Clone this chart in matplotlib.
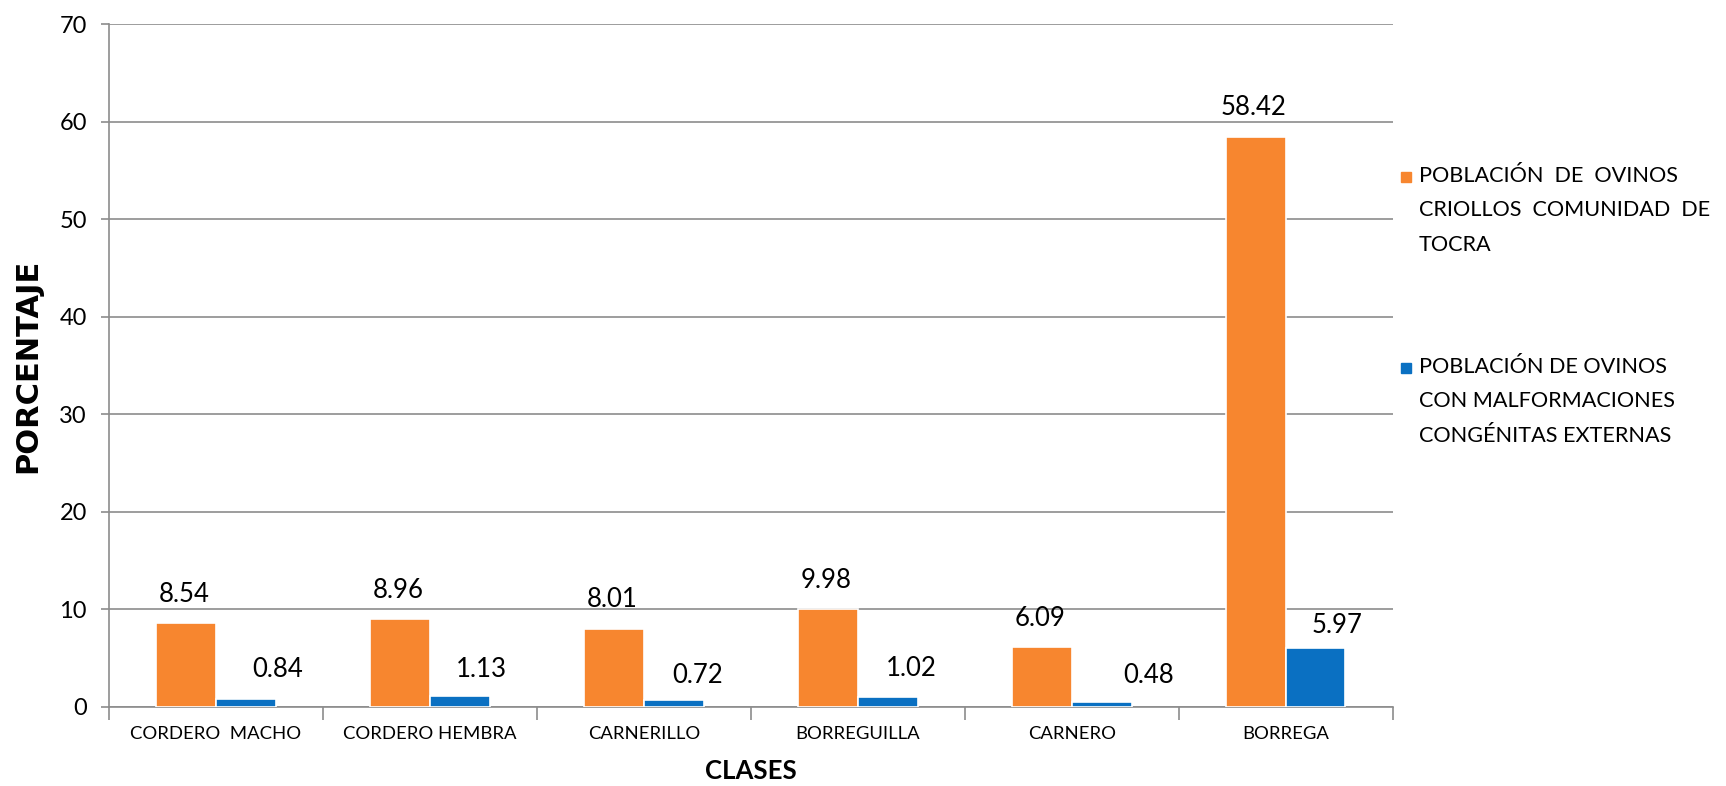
import matplotlib
matplotlib.use("Agg")
import matplotlib.pyplot as plt
from matplotlib.patches import Rectangle
import numpy as np

categories = ["CORDERO  MACHO", "CORDERO HEMBRA", "CARNERILLO",
              "BORREGUILLA", "CARNERO", "BORREGA"]
poblacion_total = [8.54, 8.96, 8.01, 9.98, 6.09, 58.42]
poblacion_malformaciones = [0.84, 1.13, 0.72, 1.02, 0.48, 5.97]
series_names = [
    "POBLACIÓN  DE  OVINOS\nCRIOLLOS  COMUNIDAD  DE\nTOCRA",
    "POBLACIÓN DE OVINOS\nCON MALFORMACIONES\nCONGÉNITAS EXTERNAS",
]
yticks = [0, 10, 20, 30, 40, 50, 60, 70]

ORANGE = "#F7862F"
BLUE = "#0A70C2"
GRID = "#8C8C8C"
FONT = ["Lato", "DejaVu Sans"]
plt.rcParams["font.family"] = FONT

fig = plt.figure(figsize=(17.26, 7.86), dpi=100)
ax = fig.add_axes([0.0632, 0.1009, 0.7436, 0.8681])

x = np.arange(len(categories))
w = 0.28
ax.bar(x - w / 2, poblacion_total, width=w, color=ORANGE,
       edgecolor="white", linewidth=1.2, zorder=3)
ax.bar(x + w / 2, poblacion_malformaciones, width=w, color=BLUE,
       edgecolor="white", linewidth=1.2, zorder=3)

# value labels
blue_dx = [0.15, 0.10, 0.11, 0.11, 0.22, 0.10]
blue_dy = [3.0, 2.7, 2.45, 2.9, 2.7, 2.4]
for i, v in enumerate(poblacion_total):
    ax.text(x[i] - w / 2 - 0.01, v + 3.0, f"{v:.2f}", ha="center", va="center",
            fontsize=18.5, color="black", zorder=4)
for i, v in enumerate(poblacion_malformaciones):
    ax.text(x[i] + w / 2 + blue_dx[i], v + blue_dy[i], f"{v:.2f}",
            ha="center", va="center", fontsize=18.5, color="black", zorder=4)

ax.set_xlim(-0.5, len(categories) - 0.5)
ax.set_ylim(0, 70)
ax.set_yticks(yticks)
ax.yaxis.grid(True, color=GRID, linewidth=1.2, zorder=0)
ax.set_axisbelow(True)

# category boundaries as tick marks, labels at the centres
ax.set_xticks(np.arange(-0.5, len(categories)), labels=[])
ax.set_xticks(x, labels=categories, minor=True)
ax.tick_params(axis="x", which="major", length=9, width=1.2, color=GRID)
ax.tick_params(axis="x", which="minor", length=0, labelsize=13.3, pad=14)
ax.tick_params(axis="y", length=6, width=1.2, color=GRID, labelsize=17, pad=10)

for side in ("top", "right"):
    ax.spines[side].set_visible(False)
for side in ("left", "bottom"):
    ax.spines[side].set_color(GRID)
    ax.spines[side].set_linewidth(1.2)

ax.set_ylabel("PORCENTAJE", fontsize=22, fontweight="bold",
              family=["DejaVu Sans"], labelpad=12)
ax.set_xlabel("CLASES", fontsize=18.5, fontweight="bold", labelpad=12)

# legend drawn as swatches and text blocks
legend_y = [0.775, 0.532]
for name, color, yy in zip(series_names, [ORANGE, BLUE], legend_y):
    fig.add_artist(Rectangle((0.8115, yy - 0.007), 0.0058, 0.0127,
                             transform=fig.transFigure, color=color))
    fig.text(0.8222, yy + 0.014, name, ha="left", va="top", fontsize=15.6,
             linespacing=1.9)

fig.savefig("out.png", dpi=100)
